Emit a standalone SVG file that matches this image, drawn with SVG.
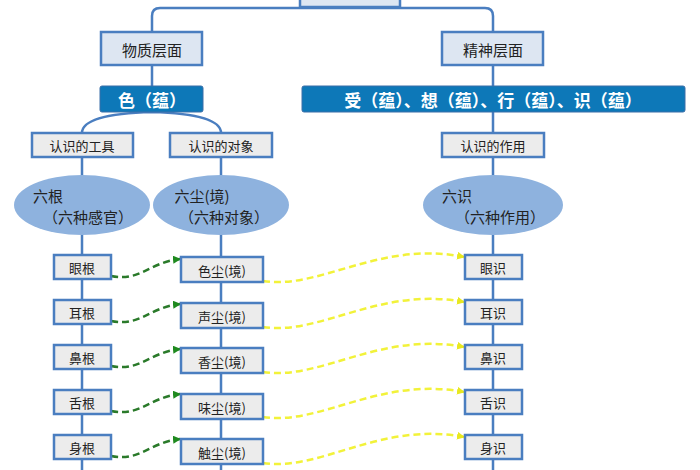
<svg xmlns="http://www.w3.org/2000/svg" width="700" height="470" viewBox="0 0 700 470">
<defs>
<style>
text{font-family:"Noto Sans CJK SC","Liberation Sans",sans-serif;fill:#222;text-anchor:middle;dominant-baseline:central}
.lb{fill:#dde6f2;stroke:#4a7ec0;stroke-width:2.5}
.sb{fill:#ececec;stroke:#4a7ec0;stroke-width:2.5}
.db{fill:#0d78b8;stroke:#3a6ea8;stroke-width:1}
.el{fill:#8eb2de}
.ln{fill:none;stroke:#4a7ec0;stroke-width:2.5}
.g{fill:none;stroke:#2a7a2a;stroke-width:2.5;stroke-dasharray:7 4}
.y{fill:none;stroke:#f2f23a;stroke-width:2.5;stroke-dasharray:7 4}
.w{fill:#fff;font-size:17px;font-weight:bold}
</style>
<marker id="ga" markerWidth="8" markerHeight="8" refX="7" refY="4" orient="auto" markerUnits="userSpaceOnUse"><path d="M0,0L8,4L0,8z" fill="#1f8a1f"/></marker>
<marker id="ya" markerWidth="8" markerHeight="8" refX="7" refY="4" orient="auto" markerUnits="userSpaceOnUse"><path d="M0,0L8,4L0,8z" fill="#e8e820"/></marker>
</defs>
<g id="connectors">
<path class="ln" d="M152,32V16Q152,8 160,8H485Q493,8 493,16V32"/>
<path class="ln" d="M152,65V86M493,65V86M493,112V133"/>
<path class="ln" d="M152,112Q82,114 82,133M152,112Q221,114 221,133"/>
<path class="ln" d="M82,157V470M221,157V470M493,157V470"/>
<g id="green">
<path class="g" d="M111,276C140,282 150,262 180,259" marker-end="url(#ga)"/>
<path class="g" d="M111,321C140,327 150,307 180,304" marker-end="url(#ga)"/>
<path class="g" d="M111,366C140,372 150,352 180,349" marker-end="url(#ga)"/>
<path class="g" d="M111,411C140,417 150,397 180,394" marker-end="url(#ga)"/>
<path class="g" d="M111,456C140,462 150,442 180,439" marker-end="url(#ga)"/>
</g>
<g id="yellow">
<path class="y" d="M263,281C320,290 380,240 464,257" marker-end="url(#ya)"/>
<path class="y" d="M263,327C320,336 380,286 464,302" marker-end="url(#ya)"/>
<path class="y" d="M263,372C320,381 380,331 464,347" marker-end="url(#ya)"/>
<path class="y" d="M263,417C320,426 380,376 464,392" marker-end="url(#ya)"/>
<path class="y" d="M263,463C320,472 380,421 464,437" marker-end="url(#ya)"/>
</g>
</g>
<g id="top"><rect class="lb" x="300" y="-20" width="100" height="27"/></g>
<g id="wuzhi"><rect class="lb" x="101" y="32" width="101" height="33"/><text x="152" y="49" font-size="15">物质层面</text></g>
<g id="jingshen"><rect class="lb" x="442" y="32" width="101" height="33"/><text x="493" y="49" font-size="15">精神层面</text></g>
<g id="se"><rect class="db" x="100" y="86" width="103" height="26" rx="2"/><text class="w" x="152" y="99">色（蕴）</text></g>
<g id="shou"><rect class="db" x="302" y="86" width="383" height="26" rx="2"/><text class="w" x="493" y="99">受（蕴）、想（蕴）、行（蕴）、识（蕴）</text></g>
<g id="gongju"><rect class="sb" x="32" y="133" width="101" height="24"/><text x="82" y="145" font-size="13">认识的工具</text></g>
<g id="duixiang"><rect class="sb" x="170" y="133" width="102" height="24"/><text x="221" y="145" font-size="13">认识的对象</text></g>
<g id="zuoyong"><rect class="sb" x="442" y="133" width="102" height="24"/><text x="493" y="145" font-size="13">认识的作用</text></g>
<g id="liugen"><ellipse class="el" cx="82" cy="205" rx="68" ry="30"/><text x="48" y="195" font-size="15">六根</text><text x="88" y="216" font-size="15">（六种感官）</text></g>
<g id="liuchen"><ellipse class="el" cx="221" cy="205" rx="68" ry="30"/><text x="202" y="195" font-size="15">六尘(境)</text><text x="224" y="216" font-size="15">（六种对象）</text></g>
<g id="liushi"><ellipse class="el" cx="493" cy="205" rx="70" ry="30"/><text x="457" y="195" font-size="15">六识</text><text x="500" y="216" font-size="15">（六种作用）</text></g>
<g id="yangen"><rect class="sb" x="54" y="255" width="57" height="24"/><text x="82" y="267" font-size="13">眼根</text></g>
<g id="ergen"><rect class="sb" x="54" y="300" width="57" height="24"/><text x="82" y="312" font-size="13">耳根</text></g>
<g id="bigen"><rect class="sb" x="54" y="345" width="57" height="24"/><text x="82" y="357" font-size="13">鼻根</text></g>
<g id="shegen"><rect class="sb" x="54" y="390" width="57" height="24"/><text x="82" y="402" font-size="13">舌根</text></g>
<g id="shengen"><rect class="sb" x="54" y="435" width="57" height="24"/><text x="82" y="447" font-size="13">身根</text></g>
<g id="sechen"><rect class="sb" x="181" y="257" width="82" height="25"/><text x="222" y="270" font-size="13">色尘(境)</text></g>
<g id="shengchen"><rect class="sb" x="181" y="303" width="82" height="25"/><text x="222" y="316" font-size="13">声尘(境)</text></g>
<g id="xiangchen"><rect class="sb" x="181" y="348" width="82" height="25"/><text x="222" y="361" font-size="13">香尘(境)</text></g>
<g id="weichen"><rect class="sb" x="181" y="394" width="82" height="25"/><text x="222" y="407" font-size="13">味尘(境)</text></g>
<g id="chuchen"><rect class="sb" x="181" y="439" width="82" height="25"/><text x="222" y="452" font-size="13">触尘(境)</text></g>
<g id="yanshi"><rect class="sb" x="465" y="255" width="57" height="24"/><text x="493" y="267" font-size="13">眼识</text></g>
<g id="ershi"><rect class="sb" x="465" y="300" width="57" height="24"/><text x="493" y="312" font-size="13">耳识</text></g>
<g id="bishi"><rect class="sb" x="465" y="345" width="57" height="24"/><text x="493" y="357" font-size="13">鼻识</text></g>
<g id="sheshi"><rect class="sb" x="465" y="390" width="57" height="24"/><text x="493" y="402" font-size="13">舌识</text></g>
<g id="shenshi"><rect class="sb" x="465" y="435" width="57" height="24"/><text x="493" y="447" font-size="13">身识</text></g>
</svg>
